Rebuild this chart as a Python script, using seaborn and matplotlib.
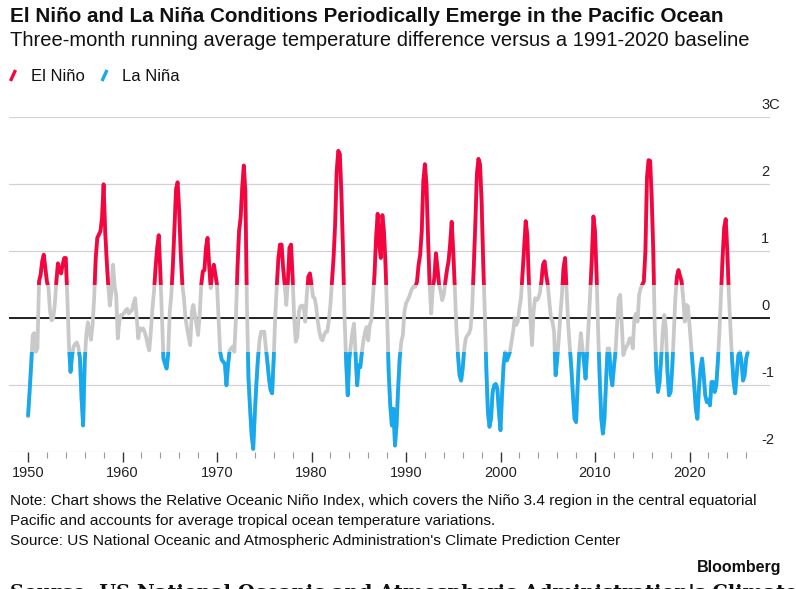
import numpy as np
import pandas as pd
import matplotlib
matplotlib.use("Agg")
import matplotlib.pyplot as plt
import matplotlib.transforms as mtransforms
from matplotlib.lines import Line2D
from matplotlib.patches import Rectangle
import seaborn as sns

# ---------------- text ----------------
TITLE = "El Niño and La Niña Conditions Periodically Emerge in the Pacific Ocean"
SUBTITLE = "Three-month running average temperature difference versus a 1991-2020 baseline"
NOTE_1 = "Note: Chart shows the Relative Oceanic Niño Index, which covers the Niño 3.4 region in the central equatorial"
NOTE_2 = "Pacific and accounts for average tropical ocean temperature variations."
SOURCE = "Source: US National Oceanic and Atmospheric Administration's Climate Prediction Center"
BRAND = "Bloomberg"
legend_labels = ["El Niño", "La Niña"]

x_ticks = [1950, 1960, 1970, 1980, 1990, 2000, 2010, 2020]
x_tick_labels = ["1950", "1960", "1970", "1980", "1990", "2000", "2010", "2020"]
y_ticks = [3, 2, 1, 0, -1, -2]
y_tick_labels = ["3C", "2", "1", "0", "-1", "-2"]
warm_threshold = 0.5
cold_threshold = -0.5

# ---------------- data (every other month) ----------------
first_year = 1950
sample_months = [1, 3, 5, 7, 9, 11]

oni_1950s = [
    -1.47, -1.10, -0.70, -0.25, -0.22, -0.50,   # 1950
    -0.45, 0.55, 0.65, 0.85, 0.95, 0.75,        # 1951
    0.55, 0.45, 0.10, -0.03, 0.00, 0.20,        # 1952
    0.55, 0.82, 0.72, 0.67, 0.80, 0.90,         # 1953
    0.90, 0.30, -0.40, -0.80, -0.55, -0.42,     # 1954
    -0.38, -0.36, -0.43, -0.60, -1.20, -1.60,   # 1955
    -0.65, -0.25, -0.06, -0.20, -0.32, -0.10,   # 1956
    0.30, 0.90, 1.20, 1.25, 1.30, 1.50,         # 1957
    2.00, 1.30, 0.85, 0.47, 0.19, 0.40,         # 1958
    0.80, 0.48, 0.35, -0.30, -0.05, 0.05,       # 1959
]
oni_1960s = [
    0.05, 0.08, 0.12, 0.14, 0.07, 0.10,         # 1960
    0.12, 0.22, 0.30, 0.02, -0.30, -0.15,       # 1961
    -0.18, -0.15, -0.20, -0.28, -0.40, -0.48,   # 1962
    -0.20, 0.15, 0.40, 0.75, 1.05, 1.24,        # 1963
    0.70, 0.05, -0.60, -0.68, -0.75, -0.53,     # 1964
    0.10, 0.35, 0.80, 1.35, 1.93, 2.03,         # 1965
    1.60, 0.95, 0.50, 0.30, 0.00, -0.15,        # 1966
    -0.28, -0.40, 0.10, 0.20, 0.05, -0.10,      # 1967
    -0.25, 0.05, 0.50, 0.70, 0.72, 1.05,        # 1968
    1.20, 0.80, 0.45, 0.70, 0.80, 0.65,         # 1969
]
oni_1970s = [
    0.50, 0.00, -0.50, -0.62, -0.65, -0.68,     # 1970
    -1.00, -0.70, -0.48, -0.45, -0.42, -0.50,   # 1971
    0.00, 0.75, 1.30, 1.50, 1.95, 2.28,         # 1972
    1.90, 0.20, -0.90, -1.35, -1.75, -1.95,     # 1973
    -1.42, -0.98, -0.60, -0.33, -0.20, -0.20,   # 1974
    -0.20, -0.43, -0.65, -0.90, -1.07, -1.12,   # 1975
    -0.60, 0.05, 0.50, 0.90, 1.10, 1.10,        # 1976
    0.75, 0.50, 0.20, 0.55, 1.05, 1.10,         # 1977
    0.62, 0.00, -0.35, -0.28, 0.10, 0.18,       # 1978
    0.19, 0.18, -0.05, 0.35, 0.62, 0.67,        # 1979
]
oni_1980s = [
    0.50, 0.32, 0.30, 0.17, -0.05, -0.20,       # 1980
    -0.30, -0.33, -0.25, -0.20, -0.20, -0.03,   # 1981
    0.20, 0.55, 0.90, 1.40, 2.20, 2.50,         # 1982
    2.45, 1.85, 1.00, 0.00, -0.65, -1.15,       # 1983
    -0.60, -0.40, -0.20, -0.08, -0.55, -1.00,   # 1984
    -0.70, -0.73, -0.50, -0.33, -0.20, -0.13,   # 1985
    -0.33, -0.10, -0.03, 0.30, 0.65, 1.20,      # 1986
    1.56, 1.10, 0.90, 1.54, 1.30, 0.80,         # 1987
    0.05, -0.80, -1.30, -1.60, -1.35, -1.90,    # 1988
    -1.60, -1.05, -0.60, -0.35, -0.25, 0.10,    # 1989
]
oni_1990s = [
    0.22, 0.27, 0.32, 0.39, 0.45, 0.48,         # 1990
    0.47, 0.55, 0.80, 0.95, 1.30, 2.05,         # 1991
    2.30, 2.00, 1.20, 0.50, 0.07, 0.45,         # 1992
    0.60, 0.97, 0.75, 0.50, 0.40, 0.27,         # 1993
    0.35, 0.55, 0.72, 0.85, 1.10, 1.44,         # 1994
    1.00, 0.45, -0.15, -0.55, -0.85, -0.93,     # 1995
    -0.75, -0.45, -0.30, -0.25, -0.23, -0.15,   # 1996
    0.15, 0.75, 1.40, 2.15, 2.38, 2.30,         # 1997
    1.75, 0.85, 0.10, -0.75, -1.40, -1.62,      # 1998
    -1.50, -1.10, -1.00, -0.98, -1.05, -1.40,   # 1999
]
oni_2000s = [
    -1.67, -1.12, -0.68, -0.50, -0.63, -0.57,   # 2000
    -0.50, -0.35, -0.20, 0.00, -0.10, -0.05,    # 2001
    0.15, 0.30, 0.67, 1.05, 1.45, 1.25,         # 2002
    0.55, 0.00, -0.40, 0.10, 0.30, 0.27,        # 2003
    0.30, 0.38, 0.55, 0.80, 0.85, 0.65,         # 2004
    0.50, 0.25, 0.02, -0.05, -0.20, -0.85,      # 2005
    -0.60, -0.30, 0.05, 0.35, 0.75, 0.90,       # 2006
    0.40, -0.10, -0.42, -0.75, -1.15, -1.50,    # 2007
    -1.55, -1.00, -0.50, -0.22, -0.45, -0.65,   # 2008
    -0.90, -0.50, -0.05, 0.40, 0.90, 1.52,      # 2009
]
oni_2010s = [
    1.30, 0.65, -0.20, -0.90, -1.50, -1.72,     # 2010
    -1.50, -0.95, -0.45, -0.45, -0.85, -1.00,   # 2011
    -0.73, -0.50, -0.10, 0.30, 0.35, -0.10,     # 2012
    -0.55, -0.47, -0.42, -0.38, -0.30, -0.30,   # 2013
    -0.45, 0.00, 0.07, -0.05, 0.35, 0.45,       # 2014
    0.50, 0.55, 1.00, 2.10, 2.36, 2.35,         # 2015
    1.80, 1.00, -0.20, -0.80, -1.10, -0.95,     # 2016
    -0.60, -0.20, 0.05, -0.15, -0.80, -1.15,    # 2017
    -1.10, -0.75, -0.25, 0.30, 0.62, 0.72,      # 2018
    0.63, 0.55, 0.30, -0.05, 0.20, 0.18,        # 2019
]
oni_2020s = [
    -0.10, -0.40, -0.70, -1.00, -1.35, -1.50,   # 2020
    -1.05, -0.75, -0.60, -0.85, -1.15, -1.25,   # 2021
    -1.22, -1.30, -0.95, -0.95, -1.10, -1.00,   # 2022
    -0.65, -0.20, 0.35, 0.90, 1.35, 1.48,       # 2023
    1.00, 0.35, -0.15, -0.60, -0.95, -1.12,     # 2024
    -0.83, -0.55, -0.50, -0.65, -0.93, -0.85,   # 2025
    -0.60, -0.50,                               # 2026
]

values = np.array(oni_1950s + oni_1960s + oni_1970s + oni_1980s +
                  oni_1990s + oni_2000s + oni_2010s + oni_2020s)
n = len(values)
years = first_year + np.arange(n) // len(sample_months)
months = np.array(sample_months * (n // len(sample_months) + 1))[:n]
t = years + (months - 1) / 12.0


def episode_frame(mask, min_run=2):
    """Rows of each episode (runs beyond the threshold), padded with one
    neighbouring reading on each side so the line reaches the threshold."""
    frames = []
    i, sid = 0, 0
    while i < n:
        if mask[i]:
            j = i
            while j < n and mask[j]:
                j += 1
            if j - i >= min_run:
                lo, hi = max(i - 1, 0), min(j + 1, n)
                frames.append(pd.DataFrame({"t": t[lo:hi], "v": values[lo:hi],
                                            "ep": sid}))
                sid += 1
            i = j
        else:
            i += 1
    return pd.concat(frames, ignore_index=True)


df = pd.DataFrame({"t": t, "v": values})
warm_df = episode_frame(values >= warm_threshold)
cold_df = episode_frame(values <= cold_threshold)

RED = "#F5053F"
BLUE = "#17A9EE"
GREY = "#C9C9C9"
LW = 2.7

# ---------------- figure ----------------
sns.set_theme(style="white")
plt.rcParams["font.family"] = ["Liberation Sans", "DejaVu Sans"]

W, H = 796, 589
fig = plt.figure(figsize=(W / 100, H / 100), dpi=100)
fig.patch.set_facecolor("white")


def fx(x):
    return x / W


def fy(y):
    return 1 - y / H


ax_l, ax_r, ax_t, ax_b = 9.3, 770.0, 117.3, 452.3
ax = fig.add_axes([fx(ax_l), fy(ax_b), (ax_r - ax_l) / W, (ax_b - ax_t) / H])
ax.set_facecolor("white")

x0 = 1950 - (28 - ax_l) / 9.45
x1 = 1950 + (ax_r - 28) / 9.45

sns.lineplot(data=df, x="t", y="v", color=GREY, linewidth=LW, ax=ax,
             legend=False, solid_capstyle="round", zorder=2)
for ln in ax.get_lines():
    ln.set_clip_on(False)

n_before = len(ax.get_lines())
sns.lineplot(data=warm_df, x="t", y="v", units="ep", estimator=None,
             color=RED, linewidth=LW, ax=ax, legend=False,
             solid_capstyle="butt", zorder=3)
for ln in ax.get_lines()[n_before:]:
    ln.set_clip_path(Rectangle((x0 - 5, warm_threshold), x1 - x0 + 10, 10,
                               transform=ax.transData))

n_before = len(ax.get_lines())
sns.lineplot(data=cold_df, x="t", y="v", units="ep", estimator=None,
             color=BLUE, linewidth=LW, ax=ax, legend=False,
             solid_capstyle="butt", zorder=3)
for ln in ax.get_lines()[n_before:]:
    ln.set_clip_path(Rectangle((x0 - 5, -10), x1 - x0 + 10, 10 + cold_threshold,
                               transform=ax.transData))

ax.axhline(0, color="#111111", linewidth=1.3, zorder=1.5)

ax.set_xlim(x0, x1)
ax.set_ylim(-2, 3)
ax.set_xlabel("")
ax.set_ylabel("")

ax.set_xticks(x_ticks)
ax.set_xticklabels(x_tick_labels)
ax.set_xticks(np.arange(1950, 2027, 2), minor=True)
ax.tick_params(axis="x", which="major", bottom=True, length=7, width=1.0,
               color="#333333", pad=3, labelsize=10.5, labelcolor="#222222")
ax.tick_params(axis="x", which="minor", bottom=True, length=4, width=0.8,
               color="#9a9a9a")
ax.set_yticks(y_ticks)
ax.tick_params(axis="y", length=0, labelleft=False, labelright=False)
ax.grid(axis="y", color="#d2d2d2", linewidth=0.9, zorder=0)
ax.grid(axis="x", visible=False)
for s in ax.spines.values():
    s.set_visible(False)

trans = mtransforms.blended_transform_factory(ax.transAxes, ax.transData)
trans = mtransforms.offset_copy(trans, fig=fig, x=0, y=8, units="dots")
lab_x = (761 - ax_l) / (ax_r - ax_l)
for val, lab in zip(y_ticks, y_tick_labels):
    ax.text(lab_x, val, lab, transform=trans, ha="left", va="baseline",
            fontsize=10.5, color="#222222")

# ---------------- titles ----------------
fig.text(fx(10), fy(22), TITLE, fontsize=14.9, fontweight="bold",
         color="#111111", ha="left", va="baseline")
fig.text(fx(10), fy(46), SUBTITLE, fontsize=14.5, color="#111111",
         ha="left", va="baseline")

# legend
fig.add_artist(Line2D([fx(10.5), fx(15.5)], [fy(81), fy(70)], color=RED,
                      linewidth=2.4, solid_capstyle="butt"))
fig.text(fx(31), fy(81), legend_labels[0], fontsize=12, color="#111111",
         ha="left", va="baseline")
fig.add_artist(Line2D([fx(102), fx(107)], [fy(81), fy(70)], color=BLUE,
                      linewidth=2.4, solid_capstyle="butt"))
fig.text(fx(122), fy(81), legend_labels[1], fontsize=12, color="#111111",
         ha="left", va="baseline")

# notes
fig.text(fx(10), fy(505), NOTE_1, fontsize=11.1, color="#111111",
         ha="left", va="baseline")
fig.text(fx(10), fy(525), NOTE_2, fontsize=11.1, color="#111111",
         ha="left", va="baseline")
fig.text(fx(10), fy(545), SOURCE, fontsize=11.1, color="#111111",
         ha="left", va="baseline")
fig.text(fx(781), fy(572), BRAND, fontsize=11.5, fontweight="bold",
         color="#111111", ha="right", va="baseline")
# line cut by the bottom edge, as in the reference
fig.text(fx(10), fy(598), SOURCE, fontsize=14, fontweight="bold",
         family=["DejaVu Serif"], color="#111111", ha="left", va="baseline")

fig.savefig("out.png", dpi=100, facecolor="white")
